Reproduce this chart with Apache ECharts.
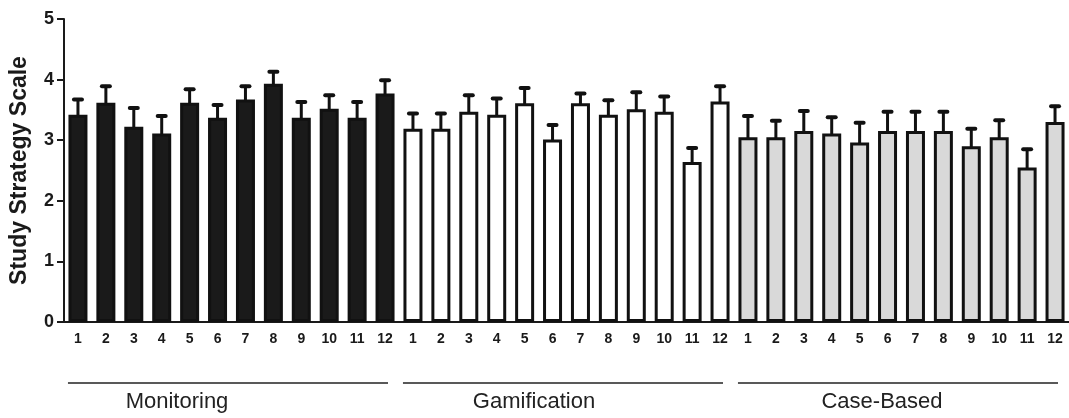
<!DOCTYPE html>
<html>
<head>
<meta charset="utf-8">
<script src="https://cdn.jsdelivr.net/npm/echarts@6/dist/echarts.min.js"></script>
<style>html,body{margin:0;padding:0;background:#fff}#c{width:1069px;height:418px}</style>
</head>
<body>
<div id="c"></div>
<script>
// ---- data ----
var groups = ['Monitoring', 'Gamification', 'Case-Based'];
var itemLabels = ['1','2','3','4','5','6','7','8','9','10','11','12'];
var monitoringMean  = [3.42, 3.62, 3.22, 3.11, 3.62, 3.37, 3.67, 3.93, 3.37, 3.52, 3.37, 3.77];
var monitoringUpper = [3.67, 3.89, 3.53, 3.40, 3.84, 3.58, 3.89, 4.13, 3.63, 3.74, 3.63, 3.99];
var gamificationMean  = [3.19, 3.19, 3.47, 3.42, 3.61, 3.01, 3.61, 3.42, 3.51, 3.47, 2.64, 3.64];
var gamificationUpper = [3.44, 3.44, 3.74, 3.69, 3.86, 3.25, 3.77, 3.66, 3.79, 3.72, 2.87, 3.89];
var caseMean  = [3.05, 3.05, 3.15, 3.11, 2.96, 3.15, 3.15, 3.15, 2.90, 3.05, 2.55, 3.30];
var caseUpper = [3.40, 3.32, 3.48, 3.38, 3.29, 3.47, 3.47, 3.47, 3.19, 3.33, 2.85, 3.56];
var yTicks = [0, 1, 2, 3, 4, 5];

// ---- style ----
var groupFill = ['#1a1a1a', '#ffffff', '#d9d9d9'];
var groupLabelShift = [-51, -29, -16];
var FONT = '"Liberation Sans", Arial, sans-serif';

var means = [monitoringMean, gamificationMean, caseMean];
var uppers = [monitoringUpper, gamificationUpper, caseUpper];

var categories = [];
var barData = [];
var errData = [];
var groupData = [];
groups.forEach(function (g, gi) {
  var start = categories.length;
  itemLabels.forEach(function (lab, i) {
    var idx = categories.length;
    categories.push(g + '|' + lab);
    barData.push({ value: means[gi][i], itemStyle: { color: groupFill[gi] } });
    errData.push([idx, means[gi][i], uppers[gi][i]]);
  });
  groupData.push([start, categories.length - 1, gi]);
});

var chart = echarts.init(document.getElementById('c'), null, { renderer: 'canvas' });
chart.setOption({
  animation: false,
  backgroundColor: '#fff',
  grid: { left: 63, top: 19, bottom: 96, width: 1008, containLabel: false },
  xAxis: {
    type: 'category',
    data: categories,
    axisLine: { lineStyle: { color: '#1a1a1a', width: 2 } },
    axisTick: { alignWithLabel: true, interval: 0, length: 8, lineStyle: { color: '#1a1a1a', width: 2 } },
    axisLabel: {
      interval: 0, margin: 10, color: '#1a1a1a', fontWeight: 'bold', fontSize: 14, fontFamily: FONT,
      formatter: function (v) { return v.split('|')[1]; }
    }
  },
  yAxis: {
    type: 'value', min: yTicks[0], max: yTicks[yTicks.length - 1], interval: 1,
    name: 'Study Strategy Scale', nameLocation: 'middle', nameGap: 33, nameRotate: 90,
    nameTextStyle: { color: '#1a1a1a', fontWeight: 'bold', fontSize: 23, fontFamily: FONT },
    axisLine: { show: true, lineStyle: { color: '#1a1a1a', width: 2 } },
    axisTick: { show: true, length: 7, lineStyle: { color: '#1a1a1a', width: 2 } },
    axisLabel: { color: '#1a1a1a', fontWeight: 'bold', fontSize: 18, fontFamily: FONT, margin: 10 },
    splitLine: { show: false }
  },
  series: [
    {
      type: 'bar', data: barData, barWidth: 19,
      itemStyle: { borderColor: '#111', borderWidth: 3 }
    },
    {
      type: 'custom', data: errData, z: 1,
      renderItem: function (params, api) {
        var p0 = api.coord([api.value(0), api.value(1)]);
        var p1 = api.coord([api.value(0), api.value(2)]);
        var st = { stroke: '#111', lineWidth: 3, lineCap: 'round' };
        return { type: 'group', children: [
          { type: 'line', shape: { x1: p0[0], y1: p0[1], x2: p1[0], y2: p1[1] }, style: st },
          { type: 'line', shape: { x1: p1[0] - 4, y1: p1[1], x2: p1[0] + 4, y2: p1[1] }, style: { stroke: '#111', lineWidth: 4, lineCap: 'round' } }
        ] };
      }
    },
    {
      type: 'custom', data: groupData, clip: false,
      renderItem: function (params, api) {
        var a = api.coord([api.value(0), 0]);
        var b = api.coord([api.value(1), 0]);
        var gi = api.value(2);
        var y = a[1] + 61;
        var cx = (a[0] - 10 + b[0] + 3) / 2 + groupLabelShift[gi];
        return { type: 'group', children: [
          { type: 'line', shape: { x1: a[0] - 10, y1: y, x2: b[0] + 3, y2: y }, style: { stroke: '#222', lineWidth: 1.5 } },
          { type: 'text', x: cx, y: y + 19, style: { text: groups[gi], fill: '#222', font: '22px ' + FONT, align: 'center', verticalAlign: 'middle' } }
        ] };
      }
    }
  ]
});
</script>
</body>
</html>
